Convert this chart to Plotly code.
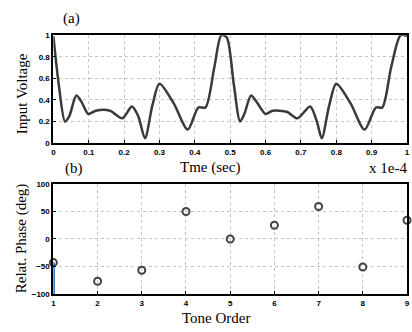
import plotly.graph_objects as go

# Panel (a): input voltage waveform
time_vals = [0.000, 0.015, 0.033, 0.045, 0.065, 0.080, 0.099, 0.120, 0.160, 0.195,
             0.222, 0.240, 0.259, 0.280, 0.300, 0.340, 0.380, 0.410, 0.430, 0.455,
             0.475, 0.490, 0.510, 0.528, 0.540, 0.559, 0.575, 0.600, 0.620, 0.660,
             0.690, 0.726, 0.745, 0.759, 0.780, 0.800, 0.840, 0.880, 0.912, 0.930,
             0.955, 0.982, 1.000]
voltage_vals = [0.99, 0.55, 0.20, 0.25, 0.44, 0.38, 0.27, 0.30, 0.30, 0.23,
                0.34, 0.25, 0.045, 0.35, 0.55, 0.37, 0.125, 0.33, 0.33, 0.70,
                1.00, 0.98, 0.55, 0.20, 0.27, 0.44, 0.38, 0.27, 0.30, 0.29,
                0.23, 0.34, 0.20, 0.045, 0.35, 0.55, 0.37, 0.125, 0.33, 0.33,
                0.70, 1.00, 0.99]

# Panel (b): relative phase per tone
tone_order = [1, 2, 3, 4, 5, 6, 7, 8, 9]
phase_deg = [-43, -77, -57, 50, 0, 25, 59, -51, 34]

x_ticks_a = [0, 0.1, 0.2, 0.3, 0.4, 0.5, 0.6, 0.7, 0.8, 0.9, 1]
y_ticks_a = [0, 0.2, 0.4, 0.6, 0.8, 1]
y_ticks_b = [-100, -50, 0, 50, 100]

W, H = 412, 332
def px(x):
    return x / W
def py(y):
    return 1 - y / H

fig = go.Figure()
fig.add_trace(go.Scatter(x=time_vals, y=voltage_vals, mode="lines",
                         line=dict(color="#3a3a3a", width=2.5, shape="spline", smoothing=0.8),
                         xaxis="x", yaxis="y", showlegend=False))
# blue stem at first tone
fig.add_trace(go.Scatter(x=[tone_order[0], tone_order[0]], y=[-100, phase_deg[0]], mode="lines",
                         line=dict(color="#1f6fd0", width=3),
                         xaxis="x2", yaxis="y2", showlegend=False))
fig.add_trace(go.Scatter(x=tone_order, y=phase_deg, mode="markers",
                         marker=dict(symbol="circle-open", size=7, color="#444444",
                                     line=dict(width=2)),
                         xaxis="x2", yaxis="y2", showlegend=False, cliponaxis=False))

tickfont = dict(family="Liberation Sans", size=8, color="black", weight="bold")
common = dict(showline=True, linecolor="black", linewidth=2, mirror=True,
              showgrid=True, gridcolor="#c4c4c4", griddash="dot", gridwidth=1,
              ticks="inside", ticklen=3, tickcolor="black", zeroline=False,
              tickfont=tickfont, ticklabeloverflow="allow")

fig.update_layout(
    width=W, height=H,
    margin=dict(l=0, r=0, t=0, b=0),
    paper_bgcolor="white", plot_bgcolor="white",
    xaxis=dict(domain=[px(52), px(410)], anchor="y", range=[0, 1],
               tickvals=x_ticks_a, ticktext=[str(v) for v in x_ticks_a], **common),
    yaxis=dict(domain=[py(143), py(32)], anchor="x", range=[0, 1],
               tickvals=y_ticks_a, ticktext=[str(v) for v in y_ticks_a], **common),
    xaxis2=dict(domain=[px(52), px(410)], anchor="y2", range=[1, 9],
                tickvals=tone_order, **common),
    yaxis2=dict(domain=[py(298), py(185)], anchor="x2", range=[-100, 100],
                tickvals=y_ticks_b, **common),
)

serif = "Liberation Serif"
ann = [
    dict(text="(a)", x=px(70), y=py(15), xanchor="center"),
    dict(text="(b)", x=px(73), y=py(169), xanchor="center"),
    dict(text="Tme (sec)", x=px(211), y=py(168), xanchor="center"),
    dict(text="x 1e-4", x=1.0, y=py(169), xanchor="right"),
    dict(text="Tone Order", x=px(217), y=py(323), xanchor="center"),
    dict(text="Input Voltage", x=px(20), y=py(92), textangle=-90, xanchor="center"),
    dict(text="Relat. Phase (deg)", x=px(20), y=py(241), textangle=-90, xanchor="center"),
]
for a in ann:
    fig.add_annotation(xref="paper", yref="paper", showarrow=False,
                       yanchor="middle",
                       font=dict(family=serif, size=15, color="black"), **a)

fig.write_html("out.html",
               config={"displayModeBar": False},
               post_script="document.body.style.margin='0';document.body.style.overflow='hidden';")
